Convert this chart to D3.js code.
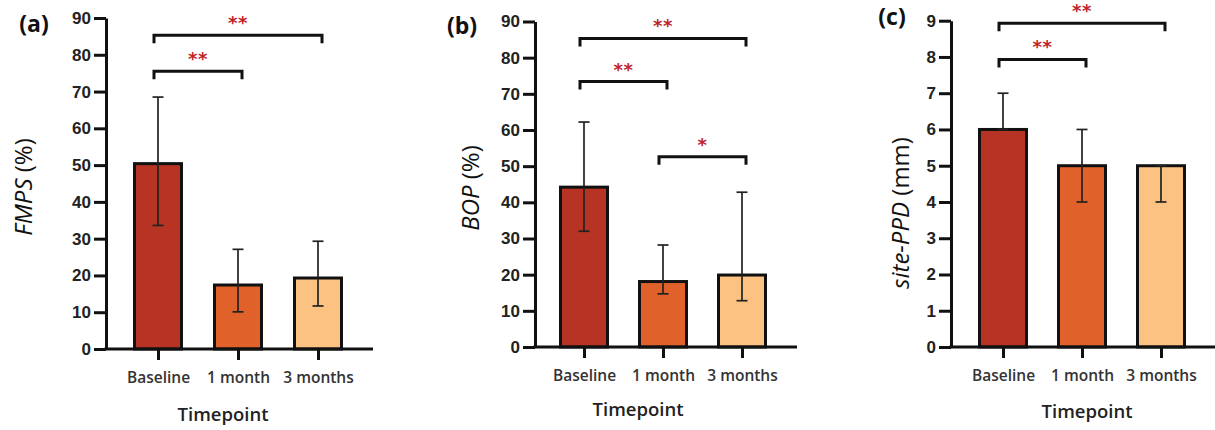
<!DOCTYPE html>
<html lang="en">
<head>
    <meta charset="UTF-8">
    <title>Timepoint bars</title>
    <script src="https://d3js.org/d3.v7.min.js"></script>
    <style>
      body { margin: 0; background: #fff; }
      svg { display: block; }
    </style>
</head>
<body>
    <script>
        // data
        const categories = ["Baseline", "1 month", "3 months"];
        const barColors = ["#b73424", "#e0622a", "#fbc281"];

        const fmpsMean = [50.4, 17.4, 19.3];
        const fmpsLow  = [33.6, 10.1, 11.7];
        const fmpsHigh = [68.5, 27.1, 29.3];

        const bopMean = [44.2, 18.1, 19.9];
        const bopLow  = [32.0, 14.7, 12.8];
        const bopHigh = [62.2, 28.2, 42.8];

        const ppdMean = [6, 5, 5];
        const ppdLow  = [6, 4, 4];
        const ppdHigh = [7, 6, 5];

        const pctTicks = [0, 10, 20, 30, 40, 50, 60, 70, 80, 90];
        const mmTicks = [0, 1, 2, 3, 4, 5, 6, 7, 8, 9];

        // [from, to, height, stars]
        const fmpsBrackets = [[0, 1, 75.5, "**"], [0, 2, 85.3, "**"]];
        const bopBrackets = [[0, 1, 73.4, "**"], [0, 2, 85.3, "**"], [1, 2, 52.6, "*"]];
        const ppdBrackets = [[0, 1, 7.93, "**"], [0, 2, 8.93, "**"]];

        const width = 1215, height = 430;
        const svg = d3.select("body").append("svg")
            .attr("width", width)
            .attr("height", height);

        const panels = [
            {tag: "(a)", tagX: 34, tagY: 32, ax: 106, axEnd: 373, y0: 349, yTop: 18, x1: 158, x2: 318,
             ymax: 90, ticks: pctTicks, mean: fmpsMean, low: fmpsLow, high: fmpsHigh, brackets: fmpsBrackets,
             yLab: ["FMPS", " (%)"], yLabX: 24, yLabY: 187, tpX: 223, tpY: 421},
            {tag: "(b)", tagX: 462, tagY: 34, ax: 535, axEnd: 797, y0: 347, yTop: 21.5, x1: 584, x2: 742,
             ymax: 90, ticks: pctTicks, mean: bopMean, low: bopLow, high: bopHigh, brackets: bopBrackets,
             yLab: ["BOP", " (%)"], yLabX: 471, yLabY: 188, tpX: 638, tpY: 416},
            {tag: "(c)", tagX: 892, tagY: 25, ax: 951, axEnd: 1215, y0: 347, yTop: 20.7, x1: 1003, x2: 1161,
             ymax: 9, ticks: mmTicks, mean: ppdMean, low: ppdLow, high: ppdHigh, brackets: ppdBrackets,
             yLab: ["site-PPD", " (mm)"], yLabX: 901, yLabY: 213, tpX: 1087, tpY: 418}
        ];

        panels.forEach(function(p) {
            const g = svg.append("g");
            const y = d3.scaleLinear().domain([0, p.ymax]).range([p.y0, p.yTop]);
            const x = d3.scalePoint().domain(categories).range([p.x1, p.x2]);
            const barW = 50;

            // bars
            g.selectAll("rect.bar")
                .data(p.mean)
                .join("rect")
                .attr("class", "bar")
                .attr("x", (d, i) => x(categories[i]) - barW / 2 + 1.5)
                .attr("width", barW - 3)
                .attr("y", d => y(d))
                .attr("height", d => p.y0 - y(d))
                .style("fill", (d, i) => barColors[i])
                .style("stroke", "#111")
                .style("stroke-width", 3);

            // error bars
            const eb = g.selectAll("g.err")
                .data(p.mean)
                .join("g")
                .attr("class", "err")
                .style("stroke", "#222")
                .style("stroke-width", 1.7);
            eb.append("line")
                .attr("x1", (d, i) => x(categories[i]))
                .attr("x2", (d, i) => x(categories[i]))
                .attr("y1", (d, i) => y(p.low[i]))
                .attr("y2", (d, i) => y(p.high[i]));
            eb.append("line")
                .attr("x1", (d, i) => x(categories[i]) - 5.5)
                .attr("x2", (d, i) => x(categories[i]) + 5.5)
                .attr("y1", (d, i) => y(p.high[i]))
                .attr("y2", (d, i) => y(p.high[i]));
            eb.append("line")
                .attr("x1", (d, i) => x(categories[i]) - 5.5)
                .attr("x2", (d, i) => x(categories[i]) + 5.5)
                .attr("y1", (d, i) => y(p.low[i]))
                .attr("y2", (d, i) => y(p.low[i]));

            // y axis
            const yAxis = g.append("g")
                .attr("transform", `translate(${p.ax},0)`)
                .call(d3.axisLeft(y).tickValues(p.ticks).tickSize(12).tickSizeOuter(0).tickPadding(3));
            yAxis.selectAll("path, line").style("stroke", "#111").style("stroke-width", 3);
            yAxis.selectAll("text")
                .style("font-family", "'Liberation Sans', Arial, sans-serif")
                .style("font-weight", "bold")
                .style("font-size", "17px")
                .style("fill", "#222");

            // x axis
            g.append("line")
                .attr("x1", p.ax - 1.5).attr("x2", p.axEnd)
                .attr("y1", p.y0).attr("y2", p.y0)
                .style("stroke", "#111").style("stroke-width", 3);
            const xAxis = g.append("g")
                .attr("transform", `translate(0,${p.y0})`)
                .call(d3.axisBottom(x).tickSize(11).tickPadding(12));
            xAxis.select(".domain").remove();
            xAxis.selectAll("line").style("stroke", "#111").style("stroke-width", 3);
            xAxis.selectAll("text")
                .style("font-family", "'Open Sans', sans-serif")
                .style("font-weight", "600")
                .style("font-size", "15.5px")
                .style("fill", "#333");

            // significance brackets
            const leg = 8;
            const br = g.selectAll("g.br")
                .data(p.brackets)
                .join("g")
                .attr("class", "br");
            br.append("path")
                .attr("d", d => {
                    const a = x(categories[d[0]]) - 4, b = x(categories[d[1]]) + 4, h = y(d[2]);
                    return `M${a},${h + leg}V${h}H${b}V${h + leg}`;
                })
                .style("fill", "none")
                .style("stroke", "#111")
                .style("stroke-width", 3);
            br.append("text")
                .attr("x", d => (x(categories[d[0]]) + x(categories[d[1]])) / 2)
                .attr("y", d => y(d[2]) - 6)
                .attr("text-anchor", "middle")
                .style("font-family", "'DejaVu Sans', sans-serif")
                .style("font-weight", "bold")
                .style("font-size", "18px")
                .style("letter-spacing", "0.5px")
                .style("fill", "#c0242b")
                .text(d => d[3]);

            // labels
            const yl = g.append("text")
                .attr("transform", `translate(${p.yLabX},${p.yLabY}) rotate(-90)`)
                .attr("text-anchor", "middle")
                .attr("dy", "0.35em")
                .style("font-family", "'Open Sans', sans-serif")
                .style("font-size", "24px")
                .style("fill", "#111");
            yl.append("tspan").style("font-style", "italic").text(p.yLab[0]);
            yl.append("tspan").text(p.yLab[1]);

            g.append("text")
                .attr("x", p.tpX).attr("y", p.tpY)
                .attr("text-anchor", "middle")
                .style("font-family", "'Open Sans', sans-serif")
                .style("font-weight", "600")
                .style("font-size", "18.5px")
                .style("fill", "#222")
                .text("Timepoint");

            g.append("text")
                .attr("x", p.tagX).attr("y", p.tagY)
                .attr("text-anchor", "middle")
                .style("font-family", "'Open Sans', sans-serif")
                .style("font-weight", "bold")
                .style("font-size", "23px")
                .style("fill", "#111")
                .text(p.tag);
        });
    </script>
</body>
</html>
